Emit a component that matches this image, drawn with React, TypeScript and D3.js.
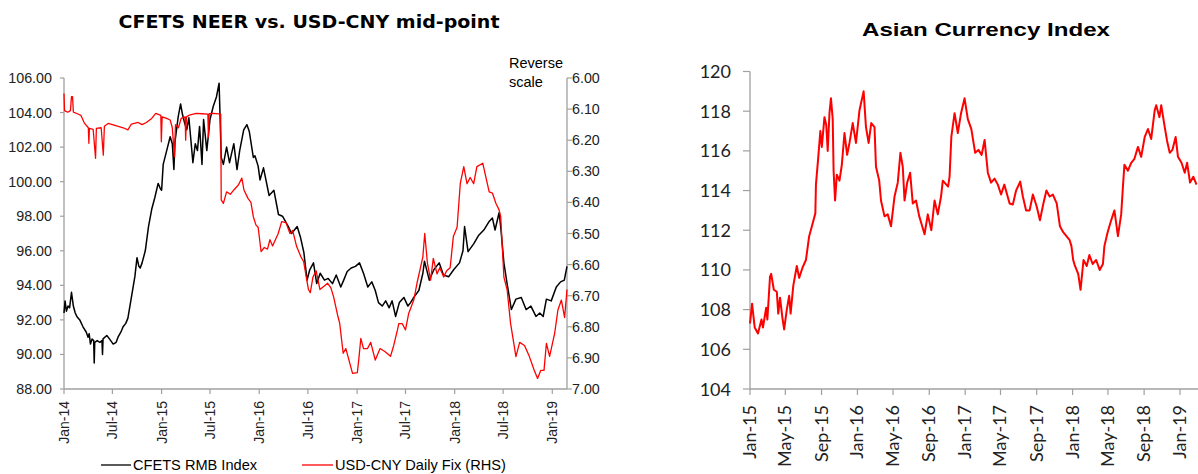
import React from "react";
import * as d3 from "d3";

// ---------- Data: left chart ----------
const cfetsIndex: [string, number][] = [
  ["2014-01-01", 92.4], ["2014-01-05", 93.1], ["2014-01-10", 92.5], ["2014-01-16", 92.8], ["2014-01-22", 92.7],
  ["2014-01-29", 93.6], ["2014-02-05", 92.8], ["2014-02-12", 92.4], ["2014-02-18", 92.2], ["2014-03-01", 92.0],
  ["2014-03-13", 91.6], ["2014-03-25", 91.3], ["2014-04-01", 91.0], ["2014-04-05", 91.2], ["2014-04-10", 90.6],
  ["2014-04-16", 90.9], ["2014-04-22", 90.8], ["2014-04-24", 89.5], ["2014-04-26", 90.7], ["2014-05-05", 90.8],
  ["2014-05-15", 90.7], ["2014-05-23", 90.8], ["2014-05-25", 90.0], ["2014-05-27", 90.9], ["2014-06-10", 91.1],
  ["2014-06-20", 90.9], ["2014-07-04", 90.6], ["2014-07-15", 90.7], ["2014-07-22", 91.0], ["2014-08-02", 91.3],
  ["2014-08-10", 91.6], ["2014-08-20", 91.8], ["2014-08-28", 92.1], ["2014-09-10", 93.3], ["2014-09-23", 94.5],
  ["2014-10-01", 95.6], ["2014-10-08", 95.1], ["2014-10-13", 95.0], ["2014-10-20", 95.3], ["2014-11-01", 96.0],
  ["2014-11-13", 97.4], ["2014-11-25", 98.4], ["2014-12-07", 99.1], ["2014-12-19", 99.9], ["2014-12-27", 99.6],
  ["2015-01-01", 99.5], ["2015-01-07", 101.0], ["2015-01-20", 101.8], ["2015-02-02", 102.6], ["2015-02-10", 102.2],
  ["2015-02-16", 100.7], ["2015-02-20", 102.3], ["2015-03-04", 103.75], ["2015-03-13", 104.5], ["2015-03-20", 103.9],
  ["2015-03-28", 103.4], ["2015-04-05", 103.0], ["2015-04-13", 103.7], ["2015-04-20", 102.5], ["2015-04-28", 101.1],
  ["2015-05-07", 102.2], ["2015-05-15", 101.8], ["2015-05-23", 103.2], ["2015-06-01", 101.0], ["2015-06-07", 103.6],
  ["2015-06-19", 101.8], ["2015-07-01", 103.6], ["2015-07-13", 104.35], ["2015-07-25", 104.9], ["2015-08-04", 105.7],
  ["2015-08-12", 101.4], ["2015-08-20", 101.0], ["2015-09-01", 102.0], ["2015-09-12", 101.1], ["2015-09-28", 102.2],
  ["2015-10-10", 100.7], ["2015-10-20", 101.8], ["2015-11-04", 103.0], ["2015-11-16", 103.3], ["2015-11-25", 102.9],
  ["2015-12-10", 101.4], ["2015-12-16", 101.5], ["2015-12-28", 100.9], ["2016-01-04", 100.1], ["2016-01-17", 100.8],
  ["2016-02-07", 99.2], ["2016-02-25", 99.5], ["2016-03-13", 98.1], ["2016-03-28", 98.0], ["2016-04-19", 97.4],
  ["2016-05-01", 97.0], ["2016-05-22", 97.4], ["2016-06-03", 96.8], ["2016-06-16", 95.9], ["2016-06-28", 94.3],
  ["2016-07-08", 94.9], ["2016-07-22", 95.3], ["2016-08-03", 94.1], ["2016-08-16", 94.7], ["2016-09-01", 94.3],
  ["2016-09-15", 94.4], ["2016-10-01", 94.1], ["2016-10-15", 94.6], ["2016-11-01", 93.9], ["2016-11-12", 94.3],
  ["2016-11-25", 94.8], ["2016-12-10", 95.0], ["2016-12-26", 95.1], ["2017-01-10", 95.3], ["2017-01-25", 94.7],
  ["2017-02-10", 93.9], ["2017-02-25", 94.2], ["2017-03-10", 93.7], ["2017-03-22", 93.0], ["2017-04-05", 92.8],
  ["2017-04-18", 93.1], ["2017-05-01", 92.7], ["2017-05-12", 93.1], ["2017-05-25", 92.2], ["2017-06-08", 93.0],
  ["2017-06-25", 93.3], ["2017-07-10", 92.8], ["2017-07-20", 93.0], ["2017-08-01", 93.3], ["2017-08-20", 93.7],
  ["2017-09-04", 94.7], ["2017-09-10", 95.4], ["2017-09-28", 94.3], ["2017-10-15", 94.9], ["2017-11-04", 95.3],
  ["2017-11-20", 94.6], ["2017-12-10", 94.5], ["2017-12-28", 94.9], ["2018-01-19", 95.3], ["2018-02-01", 96.0],
  ["2018-02-07", 97.4], ["2018-02-20", 95.95], ["2018-03-13", 96.4], ["2018-04-01", 96.9], ["2018-04-20", 97.2],
  ["2018-05-10", 97.7], ["2018-05-22", 97.9], ["2018-06-01", 97.2], ["2018-06-16", 98.2], ["2018-06-22", 97.4],
  ["2018-07-04", 95.3], ["2018-07-16", 94.1], ["2018-08-01", 92.6], ["2018-08-18", 93.2], ["2018-09-07", 93.3],
  ["2018-09-25", 92.6], ["2018-10-13", 92.8], ["2018-11-01", 92.2], ["2018-11-15", 92.4], ["2018-11-28", 92.2],
  ["2018-12-10", 93.2], ["2018-12-28", 93.1], ["2019-01-16", 93.9], ["2019-02-01", 94.2], ["2019-02-15", 94.3],
  ["2019-02-25", 95.1],
];

const usdCnyFix: [string, number][] = [
  ["2014-01-01", 6.05], ["2014-01-03", 6.105], ["2014-01-15", 6.11], ["2014-01-25", 6.105], ["2014-01-29", 6.06],
  ["2014-02-02", 6.06], ["2014-02-05", 6.11], ["2014-02-20", 6.115], ["2014-03-05", 6.12], ["2014-03-19", 6.146],
  ["2014-04-02", 6.16], ["2014-04-04", 6.21], ["2014-04-06", 6.162], ["2014-04-20", 6.165], ["2014-04-29", 6.258],
  ["2014-05-02", 6.162], ["2014-05-20", 6.16], ["2014-05-28", 6.248], ["2014-06-01", 6.155], ["2014-06-15", 6.146],
  ["2014-07-01", 6.15], ["2014-07-20", 6.155], ["2014-08-10", 6.16], ["2014-08-28", 6.167], ["2014-09-10", 6.148],
  ["2014-10-05", 6.143], ["2014-10-20", 6.15], ["2014-11-05", 6.143], ["2014-11-25", 6.13], ["2014-12-10", 6.114],
  ["2014-12-29", 6.12], ["2014-12-31", 6.205], ["2015-01-03", 6.125], ["2015-01-20", 6.13], ["2015-02-02", 6.135],
  ["2015-02-10", 6.16], ["2015-02-18", 6.253], ["2015-02-22", 6.15], ["2015-03-05", 6.16], ["2015-03-15", 6.13],
  ["2015-03-30", 6.125], ["2015-04-01", 6.2], ["2015-04-04", 6.125], ["2015-04-15", 6.119], ["2015-05-10", 6.114],
  ["2015-06-01", 6.115], ["2015-06-23", 6.116], ["2015-06-25", 6.19], ["2015-06-28", 6.115], ["2015-07-15", 6.114],
  ["2015-08-10", 6.116], ["2015-08-12", 6.392], ["2015-08-20", 6.403], ["2015-09-01", 6.366], ["2015-09-15", 6.374],
  ["2015-09-28", 6.36], ["2015-10-15", 6.344], ["2015-10-28", 6.322], ["2015-11-05", 6.36], ["2015-11-20", 6.387],
  ["2015-12-01", 6.4], ["2015-12-10", 6.446], ["2015-12-20", 6.473], ["2015-12-28", 6.48], ["2016-01-08", 6.558],
  ["2016-01-20", 6.545], ["2016-02-01", 6.55], ["2016-02-10", 6.52], ["2016-02-20", 6.54], ["2016-03-12", 6.5],
  ["2016-03-25", 6.462], ["2016-04-10", 6.465], ["2016-04-25", 6.5], ["2016-05-05", 6.49], ["2016-05-20", 6.542],
  ["2016-06-05", 6.575], ["2016-06-15", 6.59], ["2016-07-03", 6.68], ["2016-07-10", 6.69], ["2016-07-20", 6.64],
  ["2016-08-01", 6.62], ["2016-08-15", 6.68], ["2016-09-13", 6.66], ["2016-09-25", 6.675], ["2016-10-05", 6.703],
  ["2016-10-20", 6.762], ["2016-10-28", 6.789], ["2016-11-10", 6.885], ["2016-11-20", 6.87], ["2016-12-15", 6.95],
  ["2017-01-02", 6.947], ["2017-01-08", 6.9], ["2017-01-15", 6.837], ["2017-01-25", 6.87], ["2017-02-09", 6.87],
  ["2017-02-21", 6.85], ["2017-03-10", 6.907], ["2017-03-28", 6.87], ["2017-04-16", 6.88], ["2017-05-06", 6.895],
  ["2017-05-18", 6.86], ["2017-06-01", 6.81], ["2017-06-06", 6.79], ["2017-06-19", 6.79], ["2017-07-01", 6.81],
  ["2017-07-13", 6.757], ["2017-08-01", 6.714], ["2017-08-13", 6.66], ["2017-09-04", 6.575], ["2017-09-11", 6.5],
  ["2017-09-21", 6.595], ["2017-10-03", 6.65], ["2017-10-13", 6.58], ["2017-10-27", 6.63], ["2017-11-06", 6.61],
  ["2017-11-21", 6.64], ["2017-12-02", 6.62], ["2017-12-15", 6.61], ["2017-12-27", 6.51], ["2018-01-10", 6.48],
  ["2018-01-22", 6.339], ["2018-02-04", 6.285], ["2018-02-16", 6.34], ["2018-02-28", 6.32], ["2018-03-13", 6.34],
  ["2018-03-25", 6.285], ["2018-04-16", 6.274], ["2018-04-28", 6.32], ["2018-05-10", 6.366], ["2018-05-22", 6.37],
  ["2018-06-04", 6.403], ["2018-06-16", 6.424], ["2018-06-22", 6.445], ["2018-07-04", 6.64], ["2018-07-16", 6.68],
  ["2018-07-29", 6.789], ["2018-08-18", 6.896], ["2018-09-01", 6.85], ["2018-09-19", 6.86], ["2018-10-07", 6.895],
  ["2018-10-25", 6.939], ["2018-11-07", 6.966], ["2018-11-19", 6.94], ["2018-12-01", 6.94], ["2018-12-10", 6.853],
  ["2018-12-22", 6.895], ["2019-01-10", 6.82], ["2019-01-22", 6.746], ["2019-02-04", 6.714], ["2019-02-16", 6.77],
  ["2019-02-25", 6.68],
];

const leftMainTicks = [88, 90, 92, 94, 96, 98, 100, 102, 104, 106];
const leftFixTicks = [6.0, 6.1, 6.2, 6.3, 6.4, 6.5, 6.6, 6.7, 6.8, 6.9, 7.0];
const leftDateTicks = [
  "2014-01-01", "2014-07-01", "2015-01-01", "2015-07-01", "2016-01-01", "2016-07-01",
  "2017-01-01", "2017-07-01", "2018-01-01", "2018-07-01", "2019-01-01",
];

// ---------- Data: right chart ----------
const asianCurrencyIndex: [string, number][] = [
  ["2015-01-01", 107.3], ["2015-01-08", 108.3], ["2015-01-17", 107.1], ["2015-01-28", 106.8], ["2015-02-09", 107.5],
  ["2015-02-14", 107.1], ["2015-02-25", 108.1], ["2015-03-01", 107.5], ["2015-03-10", 109.66], ["2015-03-14", 109.8],
  ["2015-03-23", 109.0], ["2015-04-02", 108.9], ["2015-04-07", 107.8], ["2015-04-13", 108.6], ["2015-04-21", 107.6],
  ["2015-04-27", 107.0], ["2015-05-06", 108.0], ["2015-05-14", 108.7], ["2015-05-19", 107.8], ["2015-05-28", 109.2],
  ["2015-06-09", 110.2], ["2015-06-17", 109.6], ["2015-06-28", 110.1], ["2015-07-10", 110.5], ["2015-07-21", 111.7],
  ["2015-08-02", 112.35], ["2015-08-11", 112.85], ["2015-08-13", 114.3], ["2015-08-21", 115.7], ["2015-08-28", 117.0],
  ["2015-09-02", 116.2], ["2015-09-11", 117.7], ["2015-09-17", 117.3], ["2015-09-22", 116.0], ["2015-09-28", 117.9],
  ["2015-10-03", 118.65], ["2015-10-09", 117.6], ["2015-10-12", 115.0], ["2015-10-17", 113.5], ["2015-10-23", 114.8],
  ["2015-11-01", 114.5], ["2015-11-09", 115.3], ["2015-11-18", 116.9], ["2015-11-27", 115.8], ["2015-12-05", 116.4],
  ["2015-12-16", 117.4], ["2015-12-27", 116.4], ["2016-01-08", 118.05], ["2016-01-22", 119.0], ["2016-01-30", 117.2],
  ["2016-02-08", 116.4], ["2016-02-17", 117.4], ["2016-02-28", 117.2], ["2016-03-04", 115.2], ["2016-03-15", 114.5],
  ["2016-03-21", 113.5], ["2016-04-02", 112.7], ["2016-04-13", 112.8], ["2016-04-24", 112.2], ["2016-05-06", 113.7],
  ["2016-05-17", 114.4], ["2016-05-26", 115.9], ["2016-06-03", 115.2], ["2016-06-09", 113.5], ["2016-06-18", 114.4],
  ["2016-06-28", 114.9], ["2016-07-07", 113.35], ["2016-07-18", 113.5], ["2016-07-29", 112.7], ["2016-08-05", 112.35],
  ["2016-08-16", 111.8], ["2016-08-27", 112.8], ["2016-09-08", 112.0], ["2016-09-19", 113.5], ["2016-09-30", 112.8],
  ["2016-10-11", 113.7], ["2016-10-17", 114.5], ["2016-11-04", 114.2], ["2016-11-09", 114.7], ["2016-11-15", 116.7],
  ["2016-11-26", 117.9], ["2016-12-07", 116.9], ["2016-12-18", 117.9], ["2016-12-30", 118.65], ["2017-01-10", 117.6],
  ["2017-01-22", 117.1], ["2017-02-04", 115.9], ["2017-02-15", 116.05], ["2017-02-26", 115.8], ["2017-03-08", 116.55],
  ["2017-03-19", 114.9], ["2017-03-30", 114.4], ["2017-04-11", 114.6], ["2017-04-22", 114.3], ["2017-05-03", 113.8],
  ["2017-05-14", 114.3], ["2017-06-01", 113.35], ["2017-06-12", 113.3], ["2017-06-23", 114.0], ["2017-07-07", 114.45],
  ["2017-07-16", 113.7], ["2017-07-27", 113.0], ["2017-08-08", 113.0], ["2017-08-19", 113.8], ["2017-09-01", 113.2],
  ["2017-09-12", 112.5], ["2017-09-23", 113.3], ["2017-10-04", 114.0], ["2017-10-15", 113.7], ["2017-10-26", 113.8],
  ["2017-11-08", 113.35], ["2017-11-19", 112.2], ["2017-11-30", 111.9], ["2017-12-11", 111.7], ["2017-12-22", 111.5],
  ["2017-12-28", 111.2], ["2018-01-03", 110.5], ["2018-01-09", 110.2], ["2018-01-20", 109.8], ["2018-01-28", 109.0],
  ["2018-02-07", 110.5], ["2018-02-18", 110.2], ["2018-02-27", 110.75], ["2018-03-10", 110.3], ["2018-03-22", 110.5],
  ["2018-04-03", 110.0], ["2018-04-14", 110.3], ["2018-04-19", 111.2], ["2018-04-30", 111.9], ["2018-05-12", 112.5],
  ["2018-05-23", 113.0], ["2018-06-04", 111.7], ["2018-06-15", 112.8], ["2018-06-21", 114.2], ["2018-06-26", 115.3],
  ["2018-07-08", 115.0], ["2018-07-19", 115.4], ["2018-07-30", 115.6], ["2018-08-11", 116.2], ["2018-08-22", 115.7],
  ["2018-09-03", 116.7], ["2018-09-14", 117.1], ["2018-09-25", 116.6], ["2018-10-07", 118.05], ["2018-10-12", 118.3],
  ["2018-10-23", 117.7], ["2018-10-29", 118.3], ["2018-11-10", 117.2], ["2018-11-18", 116.5], ["2018-11-27", 115.9],
  ["2018-12-06", 116.05], ["2018-12-17", 116.7], ["2018-12-25", 115.7], ["2019-01-06", 115.4], ["2019-01-17", 114.9],
  ["2019-01-25", 115.4], ["2019-02-04", 114.4], ["2019-02-15", 114.7], ["2019-02-26", 114.3],
];

const rightValueTicks = [104, 106, 108, 110, 112, 114, 116, 118, 120];
const rightDateTicks = [
  "2015-01-01", "2015-05-01", "2015-09-01", "2016-01-01", "2016-05-01", "2016-09-01", "2017-01-01",
  "2017-05-01", "2017-09-01", "2018-01-01", "2018-05-01", "2018-09-01", "2019-01-01",
];

const parse = d3.timeParse("%Y-%m-%d");
const fmtDate = d3.timeFormat("%b-%y");
const AXIS = "#a0a0a0";
const SANS = "'Liberation Sans', Arial, sans-serif";
const CAL = "Lato, 'Open Sans', sans-serif";

function LeftChart() {
  const x = d3.scaleTime()
    .domain([parse("2014-01-01")!, parse("2019-02-25")!])
    .range([64, 567]);
  const y = d3.scaleLinear().domain([88, 106]).range([389, 78]);
  const y2 = d3.scaleLinear().domain([6.0, 7.0]).range([78, 389]);
  const lineMain = d3.line<[string, number]>()
    .x((d) => x(parse(d[0])!))
    .y((d) => y(d[1]));
  const lineFix = d3.line<[string, number]>()
    .x((d) => x(parse(d[0])!))
    .y((d) => y2(d[1]));
  return (
    <g>
      <text x={309} y={28} textAnchor="middle" fontFamily="'DejaVu Sans', Verdana, sans-serif"
        fontWeight="bold" fontSize={17} fill="#000" textLength={381} lengthAdjust="spacingAndGlyphs">
        CFETS NEER vs. USD-CNY mid-point
      </text>
      <text x={509} y={68} fontFamily={SANS} fontSize={14.5} fill="#000">Reverse</text>
      <text x={509} y={87} fontFamily={SANS} fontSize={14.5} fill="#000">scale</text>
      {/* axes */}
      <line x1={64} x2={64} y1={78} y2={389} stroke={AXIS} strokeWidth={1.3} />
      <line x1={567} x2={567} y1={78} y2={389} stroke={AXIS} strokeWidth={1.3} />
      <line x1={64} x2={567} y1={389} y2={389} stroke={AXIS} strokeWidth={1.3} />
      {leftMainTicks.map((t) => (
        <g key={"lm" + t}>
          <line x1={60} x2={64} y1={y(t)} y2={y(t)} stroke={AXIS} strokeWidth={1.2} />
          <text x={52} y={y(t) + 5} textAnchor="end" fontFamily={SANS} fontSize={14.3} fill="#222">
            {d3.format(".2f")(t)}
          </text>
        </g>
      ))}
      {leftFixTicks.map((t) => (
        <g key={"lf" + t}>
          <line x1={567} x2={572} y1={y2(t)} y2={y2(t)} stroke={AXIS} strokeWidth={1.2} />
          <text x={572} y={y2(t) + 5} fontFamily={SANS} fontSize={14.3} fill="#222">
            {d3.format(".2f")(t)}
          </text>
        </g>
      ))}
      {leftDateTicks.map((s) => {
        const px = x(parse(s)!);
        return (
          <g key={"ld" + s}>
            <line x1={px} x2={px} y1={389} y2={394} stroke={AXIS} strokeWidth={1.2} />
            <text transform={`translate(${px + 5},${401}) rotate(-90)`} textAnchor="end"
              fontFamily={SANS} fontSize={14} fill="#222">
              {fmtDate(parse(s)!)}
            </text>
          </g>
        );
      })}
      <path d={lineMain(cfetsIndex)!} fill="none" stroke="#000" strokeWidth={1.5} strokeLinejoin="round" />
      <path d={lineFix(usdCnyFix)!} fill="none" stroke="#ff0000" strokeWidth={1.3} strokeLinejoin="round" />
      {/* legend */}
      <line x1={101} x2={131} y1={465} y2={465} stroke="#000" strokeWidth={1.3} />
      <text x={133} y={470} fontFamily={SANS} fontSize={14.6} fill="#000">CFETS RMB Index</text>
      <line x1={302} x2={333} y1={465} y2={465} stroke="#ff0000" strokeWidth={1.3} />
      <text x={335} y={470} fontFamily={SANS} fontSize={14.6} fill="#000">USD-CNY Daily Fix (RHS)</text>
    </g>
  );
}

function RightChart() {
  const x = d3.scaleTime()
    .domain([parse("2015-01-01")!, parse("2019-03-03")!])
    .range([750, 1198]);
  const y = d3.scaleLinear().domain([104, 120]).range([389, 71.5]);
  const line = d3.line<[string, number]>()
    .x((d) => x(parse(d[0])!))
    .y((d) => y(d[1]));
  return (
    <g>
      <text x={986} y={36} textAnchor="middle" fontFamily={SANS} fontWeight="bold" fontSize={19}
        fill="#000" textLength={248} lengthAdjust="spacingAndGlyphs">
        Asian Currency Index
      </text>
      <line x1={750} x2={750} y1={71.5} y2={389} stroke={AXIS} strokeWidth={1.3} />
      <line x1={750} x2={1198} y1={389} y2={389} stroke={AXIS} strokeWidth={1.3} />
      {rightValueTicks.map((t) => (
        <g key={"rv" + t}>
          <line x1={743} x2={750} y1={y(t)} y2={y(t)} stroke={AXIS} strokeWidth={1.2} />
          <text x={731} y={y(t) + 6.5} textAnchor="end" fontFamily={CAL} fontSize={18} fill="#222">
            {t}
          </text>
        </g>
      ))}
      {rightDateTicks.map((s) => {
        const px = x(parse(s)!);
        return (
          <g key={"rd" + s}>
            <line x1={px} x2={px} y1={389} y2={395} stroke={AXIS} strokeWidth={1.2} />
            <text transform={`translate(${px + 6},${405}) rotate(-90)`} textAnchor="end"
              fontFamily={CAL} fontSize={18} fill="#222">
              {fmtDate(parse(s)!)}
            </text>
          </g>
        );
      })}
      <path d={line(asianCurrencyIndex)!} fill="none" stroke="#ff0000" strokeWidth={2} strokeLinejoin="round" />
    </g>
  );
}

export default function App() {
  return (
    <svg width={1198} height={474} viewBox="0 0 1198 474"
      style={{ position: "absolute", left: 0, top: 0, background: "#fff", display: "block" }}>
      <rect x={0} y={0} width={1198} height={474} fill="#fff" />
      <LeftChart />
      <RightChart />
    </svg>
  );
}
